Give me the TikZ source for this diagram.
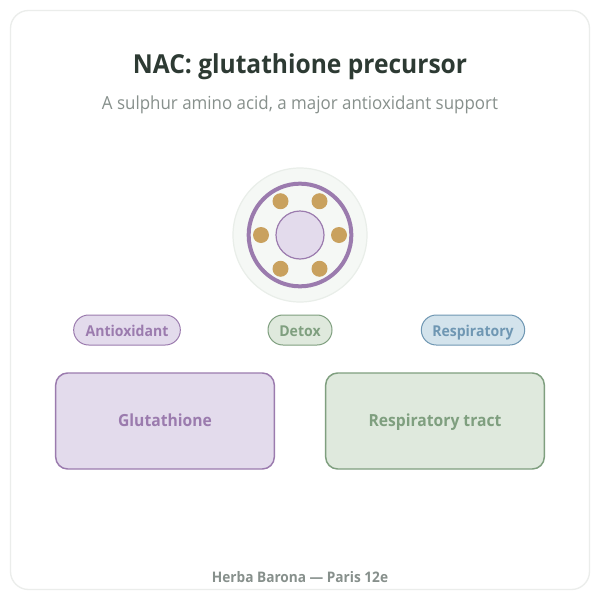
\documentclass[tikz,border=0pt]{standalone}
\usepackage{fontspec}
\usetikzlibrary{calc}
\setmainfont[FakeStretch=0.94]{Open Sans}
\definecolor{frameC}{HTML}{EBEDEB}
\definecolor{titleC}{HTML}{2D3A33}
\definecolor{greyC}{HTML}{87908C}
\definecolor{purpleC}{HTML}{9B7BAE}
\definecolor{purpleF}{HTML}{E3DBEC}
\definecolor{greenC}{HTML}{7F9F7F}
\definecolor{greenF}{HTML}{DFE9DD}
\definecolor{blueC}{HTML}{6F97B3}
\definecolor{blueF}{HTML}{D3E3EC}
\definecolor{dotC}{HTML}{C9A15E}
\definecolor{haloF}{HTML}{F5F8F5}
\definecolor{haloC}{HTML}{E9EEE9}
\tikzset{
  x=0.75pt,y=-0.75pt,
  pill/.style={draw=#1C,fill=#1F,text=#1C,line width=0.75pt,rounded corners=11.2pt,minimum height=22.5pt,inner sep=0pt,text height=9.75pt,text depth=0pt,font=\fontsize{11.2pt}{13pt}\selectfont\bfseries},
  card/.style={draw=#1C,fill=#1F,text=#1C,line width=1.1pt,rounded corners=9pt,minimum width=164pt,minimum height=72pt,inner sep=0pt,text height=7.5pt,text depth=0pt,font=\fontsize{12.5pt}{15pt}\selectfont\bfseries},
  bead/.style={circle,fill=dotC,minimum size=12pt,inner sep=0pt},
}
\begin{document}
\begin{tikzpicture}
\useasboundingbox (0,0) rectangle (600,600);
\fill[white] (0,0) rectangle (600,600);
\draw[frameC,line width=1pt,rounded corners=13.5pt,fill=white] (10.5,10.5) rectangle (589.5,589.5);
\node[anchor=base,text=titleC,font=\fontsize{19.6pt}{23pt}\selectfont\bfseries] (title) at (300,73) {NAC: glutathione precursor};
\node[anchor=base,text=greyC,font=\fontsize{13.5pt}{16pt}\selectfont] (sub) at (300,109) {A sulphur amino acid, a major antioxidant support};
\node[circle,draw=haloC,fill=haloF,line width=0.9pt,minimum size=100.5pt,inner sep=0pt] (halo) at (300,235) {};
\node[circle,draw=purpleC,line width=3pt,minimum size=77pt,inner sep=0pt] (ring) at (300,235) {};
\node[circle,draw=purpleC,fill=purpleF,line width=0.9pt,minimum size=36pt,inner sep=0pt] (core) at (300,235) {};
\foreach \i/\a in {1/0,2/60,3/120,4/180,5/240,6/300}
  \node[bead] (b\i) at ($(300,235)+(\a:39)$) {};
\node[pill=purple,minimum width=80pt] (p1) at (127,330) {Antioxidant};
\node[pill=green,minimum width=48pt] (p2) at (300,330) {Detox};
\node[pill=blue,minimum width=77.5pt] (p3) at (473,330) {Respiratory};
\node[card=purple] (c1) at (165,421) {Glutathione};
\node[card=green] (c2) at (435,421) {Respiratory tract};
\node[anchor=base,text=greyC,font=\fontsize{10.9pt}{13pt}\selectfont\bfseries] (foot) at (300,582) {Herba Barona — Paris 12e};
\end{tikzpicture}
\end{document}
